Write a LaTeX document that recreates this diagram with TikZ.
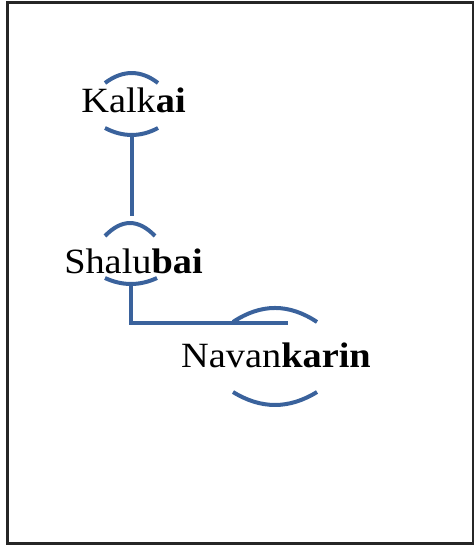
\documentclass[tikz,border=0pt]{standalone}
\usepackage{fontspec}
\setmainfont{Liberation Serif}
\definecolor{arcblue}{RGB}{58,98,156}
\tikzset{
  lbl/.style={anchor=base, inner sep=0pt, font=\fontsize{35.5}{40}\selectfont},
  conn/.style={draw=arcblue, line width=4pt},
  arcline/.style={draw=arcblue, line width=4pt},
}
\newcommand{\wlbl}[1]{\scalebox{1.08}[1]{#1}}
\begin{document}
\begin{tikzpicture}[x=1pt,y=-1pt]
\useasboundingbox (0,0) rectangle (475,545);
\draw[line width=2.2pt, draw=black!85] (7.5,2.5) rectangle (473,543.5);
% labels
\node[lbl] (kal) at (133.5,113) {\wlbl{Kalk\textbf{ai}}};
\node[lbl] (sha) at (133.5,273) {\wlbl{Shalu\textbf{bai}}};
\node[lbl] (nav) at (276,367) {\wlbl{Navan\textbf{karin}}};
% arcs Kalkai
\draw[arcline] (105,83) .. controls (122.7,69.7) and (140.8,69.7) .. (158,83);
\draw[arcline] (105,128) .. controls (122.7,137.3) and (140.8,137.3) .. (158,128);
\coordinate (kalbot) at (131.5,134);
% arcs Shalubai
\draw[arcline] (105,236) .. controls (121.7,218.7) and (138.3,218.7) .. (155,236);
\coordinate (shatop) at (131.5,216);
\draw[arcline] (105,278) .. controls (122.3,286) and (139.7,286) .. (157,278);
\coordinate (shabot) at (131,283);
% arcs Navankarin
\draw[arcline] (233,322) .. controls (261,303.3) and (289,303.3) .. (317,322);
\draw[arcline] (233,392) .. controls (261,409.3) and (289,409.3) .. (317,392);
\coordinate (navtop) at (288,323);
% connectors
\draw[conn] (kalbot) -- (shatop);
\draw[conn] (shabot) |- (navtop);
\end{tikzpicture}
\end{document}
